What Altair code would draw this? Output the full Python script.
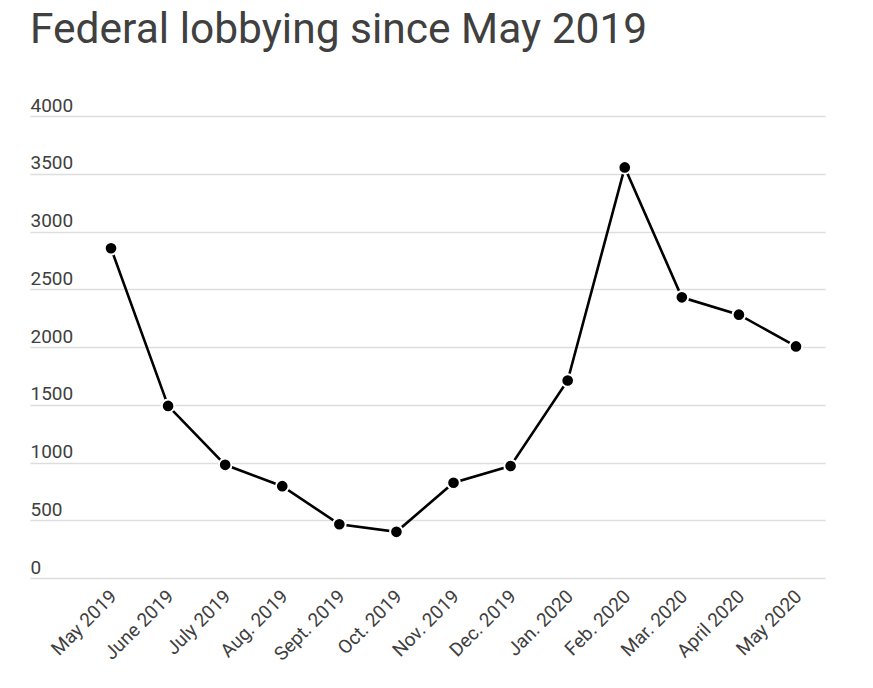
import altair as alt
import pandas as pd

months = ["May 2019", "June 2019", "July 2019", "Aug. 2019", "Sept. 2019", "Oct. 2019",
          "Nov. 2019", "Dec. 2019", "Jan. 2020", "Feb. 2020", "Mar. 2020", "April 2020", "May 2020"]
values = [2855, 1490, 980, 795, 465, 400, 825, 970, 1710, 3555, 2430, 2280, 2005]
y_ticks = [0, 500, 1000, 1500, 2000, 2500, 3000, 3500, 4000]

df = pd.DataFrame({"month": months, "value": values})

x = alt.X("month:O", sort=months, scale=alt.Scale(type="point", padding=0.9636, align=0.7364),
          axis=alt.Axis(title=None, labelAngle=315, labelAlign="right", labelBaseline="middle",
                        labelPadding=15, labelOffset=2, labelFontSize=19, labelColor="#404040",
                        labelFont="Roboto", domain=False, ticks=False, grid=False, labelOverlap=False))
y = alt.Y("value:Q", scale=alt.Scale(domain=[0, 4000], nice=False),
          axis=alt.Axis(title=None, values=y_ticks, format="d", orient="left", labelAlign="left",
                        labelBaseline="alphabetic", labelOffset=-5, labelPadding=0, tickSize=0,
                        ticks=False, domain=False, grid=True, gridColor="#dddddd", gridWidth=1.4,
                        labelFontSize=19, labelColor="#404040", labelFont="Roboto"))

line = alt.Chart(df).mark_line(color="black", strokeWidth=2.6).encode(x=x, y=y)
pts = alt.Chart(df).mark_point(filled=True, color="black", size=160, opacity=1,
                               stroke="white", strokeWidth=2).encode(x=x, y=y)

chart = (line + pts).properties(
    width=795, height=462,
    background="white",
    autosize=alt.AutoSizeParams(type="none"),
    padding={"left": 22, "top": 108, "right": 40, "bottom": 110},
    title=alt.TitleParams("Federal lobbying since May 2019", anchor="start", frame="group",
                          fontSize=42.5, font="Roboto", fontWeight=400, color="#404040", offset=45),
).configure_view(strokeWidth=0, stroke=None)

chart.save("out.html", embed_options={"renderer": "svg", "actions": False})
